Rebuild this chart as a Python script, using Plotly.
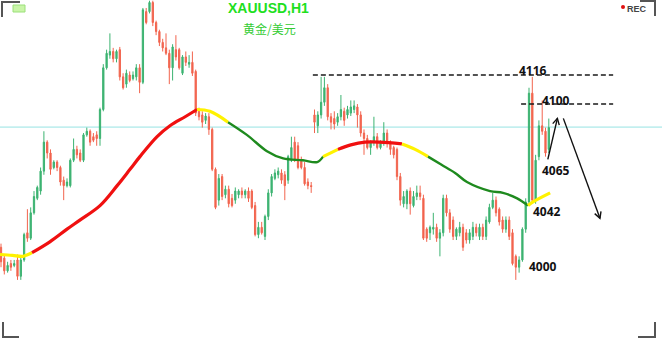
import plotly.graph_objects as go
import math

# ---------------- data ----------------
opens = [4021,4015,4008,4012,4011,4014,4005,4014,4029,4026,
         4040,4048,4052,4063,4079,4073,4065,4068,4065,4058,
         4055,4055,4069,4075,4073,4069,4083,4085,4082,4083,
         4081,4097,4120,4127,4129,4125,4130,4115,4111,4116,
         4114,4115,4120,4112,4151,4151,4156,4145,4140,4134,
         4131,4128,4120,4130,4130,4117,4126,4122,4123,4118,
         4096,4094,4091,4093,4086,4064,4047,4060,4050,4053,
         4048,4047,4050,4052,4050,4052,4052,4044,4028,4032,
         4027,4038,4051,4059,4061,4062,4061,4058,4069,4079,
         4077,4069,4065,4057,4055,4094,4088,4094,4101,4109,
         4093,4092,4090,4093,4096,4094,4095,4097,4098.4,4094,
         4084,4081,4076,4079,4082,4076,4079,4084,4079,4076,
         4075,4060,4045,4045,4052,4044,4049,4051,4048,4031,
         4029,4031,4032,4026,4029,4048,4040,4036,4027,4029,
         4032,4029,4025,4027,4032,4027,4032,4027,4035,4043,
         4047,4042,4036,4031,4036,4029,4016,4010,4014,4031,
         4046,4106,4047,4071,4088,4085,4075]
closes = [4013,4008,4011,4010,4012,4005,4014,4028,4026,4040,
          4049,4054,4063,4079,4073,4064,4068,4065,4057,4055,
          4057,4069,4075,4072,4069,4083,4085,4079,4080,4081,
          4097,4120,4128,4129,4125,4129,4115,4109,4117,4113,
          4116,4120,4112,4152,4145,4156,4145,4140,4134,4131,
          4128,4120,4131.5,4126,4120,4126,4123,4123,4117,4095,
          4093,4090,4093.4,4086,4064,4043,4059,4049,4053,4045,
          4044,4052,4052,4050,4052,4048,4043,4028,4032,4029,
          4038,4051,4060,4062,4063,4058,4055,4071,4076,4069,
          4065,4065,4056,4055,4054.5,4090,4094,4101,4109,4093,
          4090,4089,4093,4097,4091,4097,4098.4,4099,4094,4084,
          4081,4076,4079,4082,4076,4079,4084,4079,4075,4072,
          4060,4047,4049,4052,4045,4049,4051,4049,4026,4026,
          4032,4032,4026,4029,4048,4040,4031,4027,4031,4032,
          4021,4025,4029,4032,4029,4032,4027,4036,4043,4047,
          4040,4035,4031,4036,4027,4012,4010,4014,4031,4046,
          4106,4047,4069,4088,4085,4073,4087]
highs = [4023,4017,4013,4014,4014,4017,4016,4029,4042,4043,
         4052,4055,4065,4085,4080,4075,4069,4069,4066,4060,
         4059,4070,4081,4077,4075,4084,4087,4086,4084,4085,
         4098,4122,4130,4139,4131,4130,4131.5,4117,4119,4118,
         4118,4122,4122,4153,4153,4157,4157,4146,4141,4136,
         4139,4130,4133,4138,4131,4127,4129,4127,4129,4119,
         4098,4096,4095,4095,4087,4065,4061.4,4061.4,4055,4055,
         4050.4,4054,4053,4054,4053,4054,4053,4046,4035,4035,
         4039,4053,4061.4,4064,4065,4064,4063,4072,4082,4082,
         4079,4071,4068,4059,4057,4097,4096,4115,4115,4111,
         4095,4096,4095,4105,4098,4099,4102,4102,4100,4096,
         4086,4083,4080,4093,4084,4080,4090,4086,4080,4077,
         4076,4062,4052,4053,4054,4052,4055,4055,4050,4032,
         4033,4040,4034,4031,4050,4050,4042,4038,4032,4035,
         4034,4031,4031,4035,4034,4034,4034,4038,4045,4051,
         4049,4043,4038,4038,4038,4031,4017,4016,4032,4048,
         4109,4115,4072,4091,4102,4087,4092]
lows = [4010,4006,4007,4008,4010,4003,4003,4013,4024,4025,
        4039,4047,4050,4061,4070,4061,4064,4063,4055,4047,
        4054,4054,4068,4070,4068,4068,4082,4077,4079,4077,
        4077,4096,4119,4125,4123,4123,4113,4108,4109,4112,
        4113,4113,4106,4111,4144,4150,4143,4138,4132,4129,
        4127,4111,4113,4124,4119,4116,4121,4120,4115.5,4093.4,
        4091,4087,4089,4083,4063,4042,4044,4047,4048,4043,
        4043,4045,4048,4048,4048,4046,4042,4027,4026,4028,
        4025,4036,4049,4058,4059,4056,4047,4056,4068,4068,
        4064,4064,4055,4053,4051,4084,4084,4092,4099,4091,
        4086,4086,4088,4091,4088,4092,4093.4,4095,4087,4082,
        4072,4075,4072,4077,4075,4075,4077,4076,4072,4070,
        4058,4044,4043,4042,4039,4043,4047,4047,4025,4024,
        4025,4028,4024,4016,4027,4038,4029,4025,4025,4027,
        4019,4023,4023,4025,4027,4025,4025,4025,4034,4042,
        4038,4033,4029,4029,4025,4011,4003,4007,4013,4029,
        4044,4045,4045,4069,4083,4071,4073]

# moving-average line (candle index, price) and its colour segments
ma_x = [-0.3, 3.5, 6.7, 9.4, 14.8, 20, 23.9, 30, 35.2, 39.1, 42.1, 47.3, 51.2,
        55.8, 59.4, 63.3, 68.8, 74.5, 80.6, 85.5, 91.5, 95.8, 97.6, 102.1, 106,
        110.3, 114.8, 121.5, 125.5, 129.4, 133.5, 137.6, 141.2, 148.2, 152.1,
        156.4, 159.7, 161.2, 166.4]
ma_y = [4017, 4016.5, 4016, 4018, 4024, 4031, 4036, 4044, 4055, 4064, 4071, 4082,
        4088, 4093, 4097, 4096, 4090, 4083, 4074, 4070, 4069, 4068, 4071, 4075,
        4077.5, 4079, 4079, 4078, 4075, 4071, 4066.5, 4062, 4057, 4052, 4051,
        4048, 4044, 4046, 4051]
seg_breaks = [0, 3, 14, 16, 22, 23, 27, 29, 36, 38]
seg_colors = ["yellow", "red", "yellow", "green", "yellow", "red", "yellow", "green", "yellow"]

# reference levels and labels
current_price = 4087.3
level_high = 4116
level_mid = 4100
level_high_span = [94.5, 185.5]
level_mid_span = [157.6, 185.5]
labels = ["4116", "4100", "4065", "4042", "4000"]
label_x = [161.2, 168.2, 168.2, 165.5, 164.2]
label_y = [4118.4, 4101.7, 4063.6, 4041.0, 4010.6]
arrow_up = [(165.7, 4069.5), (168.6, 4092.1)]
arrow_down = [(170.4, 4092.1), (181.5, 4037.0)]

title = "XAUUSD,H1"
subtitle = "黄金/美元"

# ---------------- styling ----------------
W, H = 662, 339
X_RANGE = [-0.303, 200.3]
Y_RANGE = [3970.4, 4157.4]
GREEN_C = "#3CB371"
RED_C = "#F2644E"
MA_COL = {"yellow": ("#FFF200", 3.2), "red": ("#F01010", 3.2), "green": ("#1E8A1E", 2.4)}

fig = go.Figure()
fig.add_trace(go.Candlestick(
    x=list(range(len(opens))), open=opens, high=highs, low=lows, close=closes,
    increasing=dict(line=dict(color=GREEN_C, width=1), fillcolor=GREEN_C),
    decreasing=dict(line=dict(color=RED_C, width=1), fillcolor=RED_C),
    whiskerwidth=0, hoverinfo="skip", showlegend=False))

for k, col in enumerate(seg_colors):
    a, b = seg_breaks[k], seg_breaks[k + 1]
    c, w = MA_COL[col]
    fig.add_trace(go.Scatter(x=ma_x[a:b + 1], y=ma_y[a:b + 1], mode="lines",
                             line=dict(color=c, width=w, shape="spline", smoothing=1),
                             hoverinfo="skip", showlegend=False))

shapes = []
shapes.append(dict(type="line", xref="paper", x0=0, x1=1, yref="y", y0=current_price, y1=current_price,
                   line=dict(color="#96E3E3", width=1), layer="below"))
for lvl, span in [(level_high, level_high_span), (level_mid, level_mid_span)]:
    shapes.append(dict(type="line", xref="x", yref="y", x0=span[0], x1=span[1], y0=lvl, y1=lvl,
                       line=dict(color="#1a1a1a", width=1.4, dash="5px,3px")))

px_x = W / (X_RANGE[1] - X_RANGE[0])
px_y = H / (Y_RANGE[1] - Y_RANGE[0])
for (x0, y0), (x1, y1) in [arrow_up, arrow_down]:
    shapes.append(dict(type="line", xref="x", yref="y", x0=x0, y0=y0, x1=x1, y1=y1,
                       line=dict(color="#111", width=1.4)))
    ang = math.atan2((y1 - y0) * px_y, (x1 - x0) * px_x)
    L = 7
    pts = []
    for s in (1, -1):
        a2 = ang + math.pi + s * 0.5
        pts.append((x1 + L * math.cos(a2) / px_x, y1 + L * math.sin(a2) / px_y))
    path = f"M {pts[0][0]},{pts[0][1]} L {x1},{y1} L {pts[1][0]},{pts[1][1]}"
    shapes.append(dict(type="path", xref="x", yref="y", path=path, line=dict(color="#111", width=1.4)))

def P(x, y):
    return f"{x / W},{1 - y / H}"

for pth in [f"M {P(2,17)} L {P(2,2)} L {P(20,2)}",
            f"M {P(640,1)} L {P(655,1)} L {P(655,16)}",
            f"M {P(3,322)} L {P(3,337)} L {P(19,337)}",
            f"M {P(638,337)} L {P(655,337)} L {P(655,322)}"]:
    shapes.append(dict(type="path", xref="paper", yref="paper", path=pth,
                       line=dict(color="#555555", width=2)))
shapes.append(dict(type="rect", xref="paper", yref="paper", x0=13 / W, x1=25 / W, y0=1 - 12 / H, y1=1 - 5 / H,
                   fillcolor="#C9F5A8", line=dict(color="#9BE07A", width=1)))
shapes.append(dict(type="circle", xref="paper", yref="paper", x0=621 / W, x1=625 / W, y0=1 - 9 / H, y1=1 - 5 / H,
                   fillcolor="#E01010", line=dict(width=0)))

annotations = []
annotations.append(dict(text=title, xref="paper", yref="paper", x=268 / W, y=1 - 8 / H, showarrow=False,
                        xanchor="center", yanchor="middle",
                        font=dict(family="Liberation Sans", size=14, color="#1EE01E", weight="bold")))
annotations.append(dict(text=subtitle, xref="paper", yref="paper", x=269 / W, y=1 - 28 / H, showarrow=False,
                        xanchor="center", yanchor="middle",
                        font=dict(family="Noto Sans CJK SC", size=12, color="#33CC33")))
annotations.append(dict(text="REC", xref="paper", yref="paper", x=637 / W, y=1 - 9 / H, showarrow=False,
                        xanchor="center", yanchor="middle",
                        font=dict(family="Liberation Sans", size=9, color="#444444", weight="bold")))
for t, lx, ly in zip(labels, label_x, label_y):
    annotations.append(dict(text=t, xref="x", yref="y", x=lx, y=ly, showarrow=False,
                            xanchor="center", yanchor="middle",
                            font=dict(family="Open Sans", size=12, color="#111111", weight="bold")))

fig.update_layout(
    width=W, height=H, margin=dict(l=0, r=0, t=0, b=0),
    paper_bgcolor="white", plot_bgcolor="white", showlegend=False, boxgap=0.45,
    xaxis=dict(range=X_RANGE, visible=False, rangeslider=dict(visible=False), fixedrange=True),
    yaxis=dict(range=Y_RANGE, visible=False, fixedrange=True),
    shapes=shapes, annotations=annotations,
)
fig.write_html("out.html", config={"displayModeBar": False})
